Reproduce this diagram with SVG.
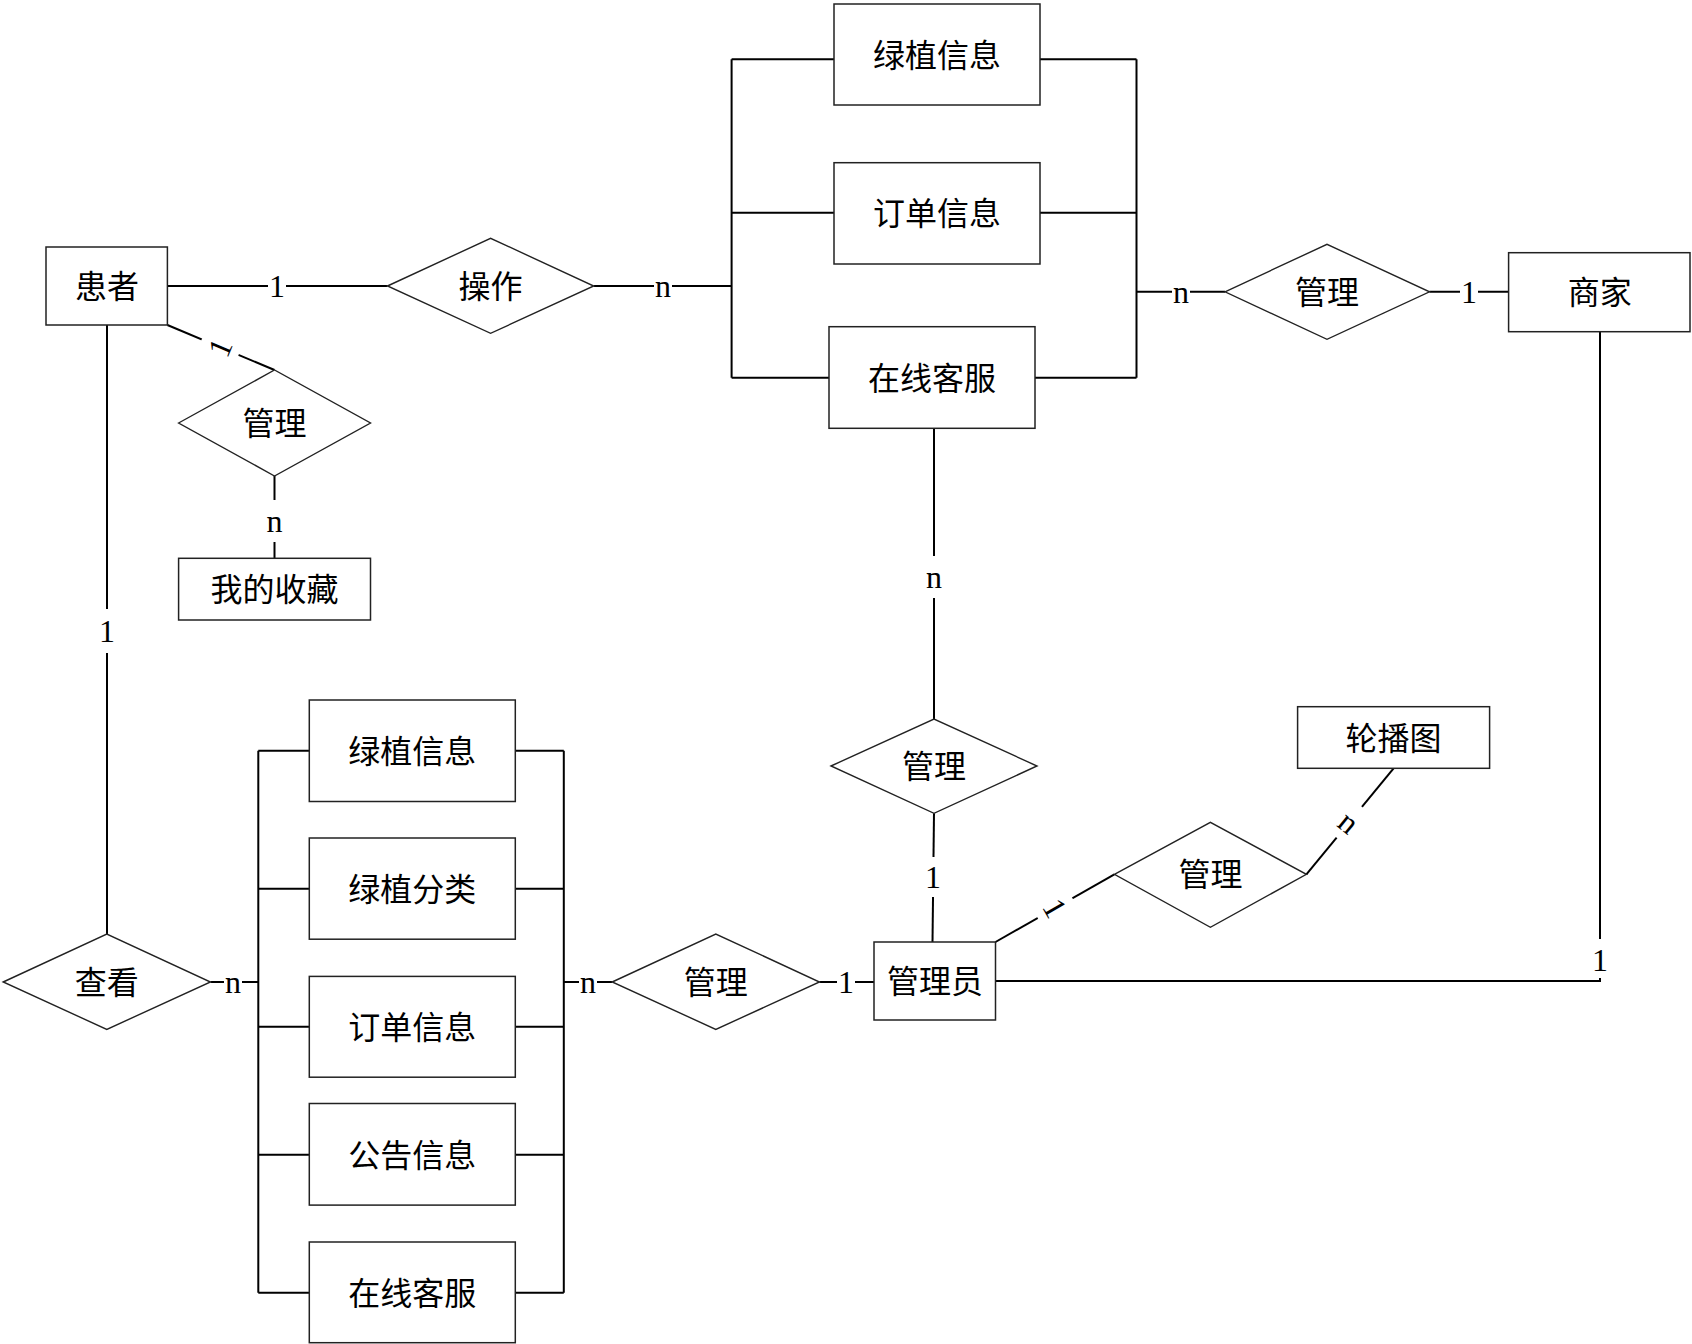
<svg xmlns="http://www.w3.org/2000/svg" width="1692" height="1344" viewBox="0 0 1692 1344">
<style>
.box{fill:#fff;stroke:#222;stroke-width:1.5}
.dia{fill:#fff;stroke:#222;stroke-width:1.4}
.ln{fill:none;stroke:#000;stroke-width:2}
.t{font-family:"Noto Sans CJK SC","Noto Sans",sans-serif;font-size:32px;text-anchor:middle;dominant-baseline:central;fill:#000;transform:translateY(-2px)}
.lb{font-family:"Liberation Serif","DejaVu Serif",serif;font-size:32px;text-anchor:middle;dominant-baseline:central;fill:#000}
.bg{fill:#fff;stroke:none}
</style>
<rect width="1692" height="1344" fill="#fff"/>
<g id="connectors">
<path class="ln" d="M167,286H387.5"/>
<path class="ln" d="M593.75,286H731.6"/>
<path class="ln" d="M731.6,59.3V377.7M731.6,59.3H834M731.6,212.7H834M731.6,377.7H829"/>
<path class="ln" d="M1136.5,59.3V377.7M1040,59.3H1136.5M1040,212.7H1136.5M1035,377.7H1136.5"/>
<path class="ln" d="M1136.5,291.8H1225"/>
<path class="ln" d="M1429.5,291.8H1508.6"/>
<path class="ln" d="M167.4,325L274.5,370"/>
<path class="ln" d="M274.5,476V558.3"/>
<path class="ln" d="M107,325V934"/>
<path class="ln" d="M934,428.3V719"/>
<path class="ln" d="M934,813.3L932.5,942"/>
<path class="ln" d="M995.5,942L1114.4,874.3"/>
<path class="ln" d="M1306.4,874.3L1393.6,768.3"/>
<path class="ln" d="M995.5,981H1600V331.7"/>
<path class="ln" d="M210.5,982H258.3"/>
<path class="ln" d="M258.3,750.7V1292.8M258.3,750.7H309.3M258.3,888.8H309.3M258.3,1026.8H309.3M258.3,1154.7H309.3M258.3,1292.8H309.3"/>
<path class="ln" d="M563.8,750.7V1292.8M515.3,750.7H563.8M515.3,888.8H563.8M515.3,1026.8H563.8M515.3,1154.7H563.8M515.3,1292.8H563.8"/>
<path class="ln" d="M563.8,982H612.2"/>
<path class="ln" d="M819.5,982H874"/>
<g id="labels">
<rect class="bg" x="268" y="266" width="18" height="40"/><text class="lb" x="277" y="286">1</text>
<rect class="bg" x="654" y="266" width="18" height="40"/><text class="lb" x="663" y="286">n</text>
<rect class="bg" x="1172" y="272" width="18" height="40"/><text class="lb" x="1181" y="292">n</text>
<rect class="bg" x="1460" y="272" width="18" height="40"/><text class="lb" x="1469" y="292">1</text>
<g transform="translate(220,347.5) rotate(-67.2)"><rect class="bg" x="-10" y="-20" width="20" height="40"/><text class="lb" x="0" y="0">1</text></g>
<rect class="bg" x="264" y="500" width="20" height="42"/><text class="lb" x="274.5" y="521">n</text>
<rect class="bg" x="97" y="609" width="20" height="44"/><text class="lb" x="107" y="631">1</text>
<rect class="bg" x="924" y="556" width="20" height="42"/><text class="lb" x="934" y="577">n</text>
<rect class="bg" x="923" y="857" width="20" height="40"/><text class="lb" x="933" y="877">1</text>
<g transform="translate(1055,908) rotate(60.3)"><rect class="bg" x="-10" y="-20" width="20" height="40"/><text class="lb" x="0" y="0">1</text></g>
<g transform="translate(1349,822) rotate(39.4)"><rect class="bg" x="-10" y="-20" width="20" height="40"/><text class="lb" x="0" y="0">n</text></g>
<rect class="bg" x="1590" y="939" width="20" height="39"/><text class="lb" x="1600" y="960">1</text>
<rect class="bg" x="224" y="962" width="18" height="40"/><text class="lb" x="233" y="982">n</text>
<rect class="bg" x="579" y="962" width="18" height="40"/><text class="lb" x="588" y="982">n</text>
<rect class="bg" x="837" y="962" width="18" height="40"/><text class="lb" x="846" y="982">1</text>
</g>
</g>
<g id="patient"><rect class="box" x="46" y="247" width="121.4" height="78"/><text class="t" x="107" y="286">患者</text></g>
<g id="rel-operate"><polygon class="dia" points="387.5,286 490.6,238.3 593.75,286 490.6,333.3"/><text class="t" x="490.6" y="286">操作</text></g>
<g id="rel-manage-fav"><polygon class="dia" points="178.6,423 274.5,370 370.5,423 274.5,476"/><text class="t" x="274.5" y="423">管理</text></g>
<g id="favorites"><rect class="box" x="178.6" y="558.3" width="191.9" height="61.7"/><text class="t" x="274.5" y="589">我的收藏</text></g>
<g id="top-plant"><rect class="box" x="834" y="4" width="206" height="101"/><text class="t" x="937" y="54.5">绿植信息</text></g>
<g id="top-order"><rect class="box" x="834" y="162.7" width="206" height="101.3"/><text class="t" x="937" y="213">订单信息</text></g>
<g id="top-service"><rect class="box" x="829" y="326.7" width="206" height="101.6"/><text class="t" x="932" y="377.5">在线客服</text></g>
<g id="rel-manage-merchant"><polygon class="dia" points="1225,291.8 1327,244.3 1429.5,291.8 1327,339.3"/><text class="t" x="1327" y="291.8">管理</text></g>
<g id="merchant"><rect class="box" x="1508.6" y="252.7" width="181.4" height="79"/><text class="t" x="1599.7" y="292">商家</text></g>
<g id="rel-manage-service"><polygon class="dia" points="831,766 934,719 1037,766 934,813.3"/><text class="t" x="934" y="766">管理</text></g>
<g id="carousel"><rect class="box" x="1297.6" y="706.7" width="192" height="61.6"/><text class="t" x="1393.6" y="737.5">轮播图</text></g>
<g id="rel-manage-carousel"><polygon class="dia" points="1114.4,874.3 1210.4,822.3 1306.4,874.3 1210.4,927.3"/><text class="t" x="1210.4" y="874.3">管理</text></g>
<g id="admin"><rect class="box" x="874" y="942" width="121.5" height="78"/><text class="t" x="935" y="981">管理员</text></g>
<g id="rel-manage-bottom"><polygon class="dia" points="612.2,982 715.8,934 819.5,982 715.8,1029.4"/><text class="t" x="715.8" y="982">管理</text></g>
<g id="rel-view"><polygon class="dia" points="3.2,982 106.8,934 210.5,982 106.8,1029.4"/><text class="t" x="106.8" y="982">查看</text></g>
<g id="bottom-plant"><rect class="box" x="309.3" y="700" width="206" height="101.5"/><text class="t" x="412.3" y="750.7">绿植信息</text></g>
<g id="bottom-category"><rect class="box" x="309.3" y="838" width="206" height="101.2"/><text class="t" x="412.3" y="888.8">绿植分类</text></g>
<g id="bottom-order"><rect class="box" x="309.3" y="976.4" width="206" height="100.8"/><text class="t" x="412.3" y="1026.8">订单信息</text></g>
<g id="bottom-notice"><rect class="box" x="309.3" y="1103.5" width="206" height="101.6"/><text class="t" x="412.3" y="1154.7">公告信息</text></g>
<g id="bottom-service"><rect class="box" x="309.3" y="1242" width="206" height="100.7"/><text class="t" x="412.3" y="1292.8">在线客服</text></g>
</svg>
